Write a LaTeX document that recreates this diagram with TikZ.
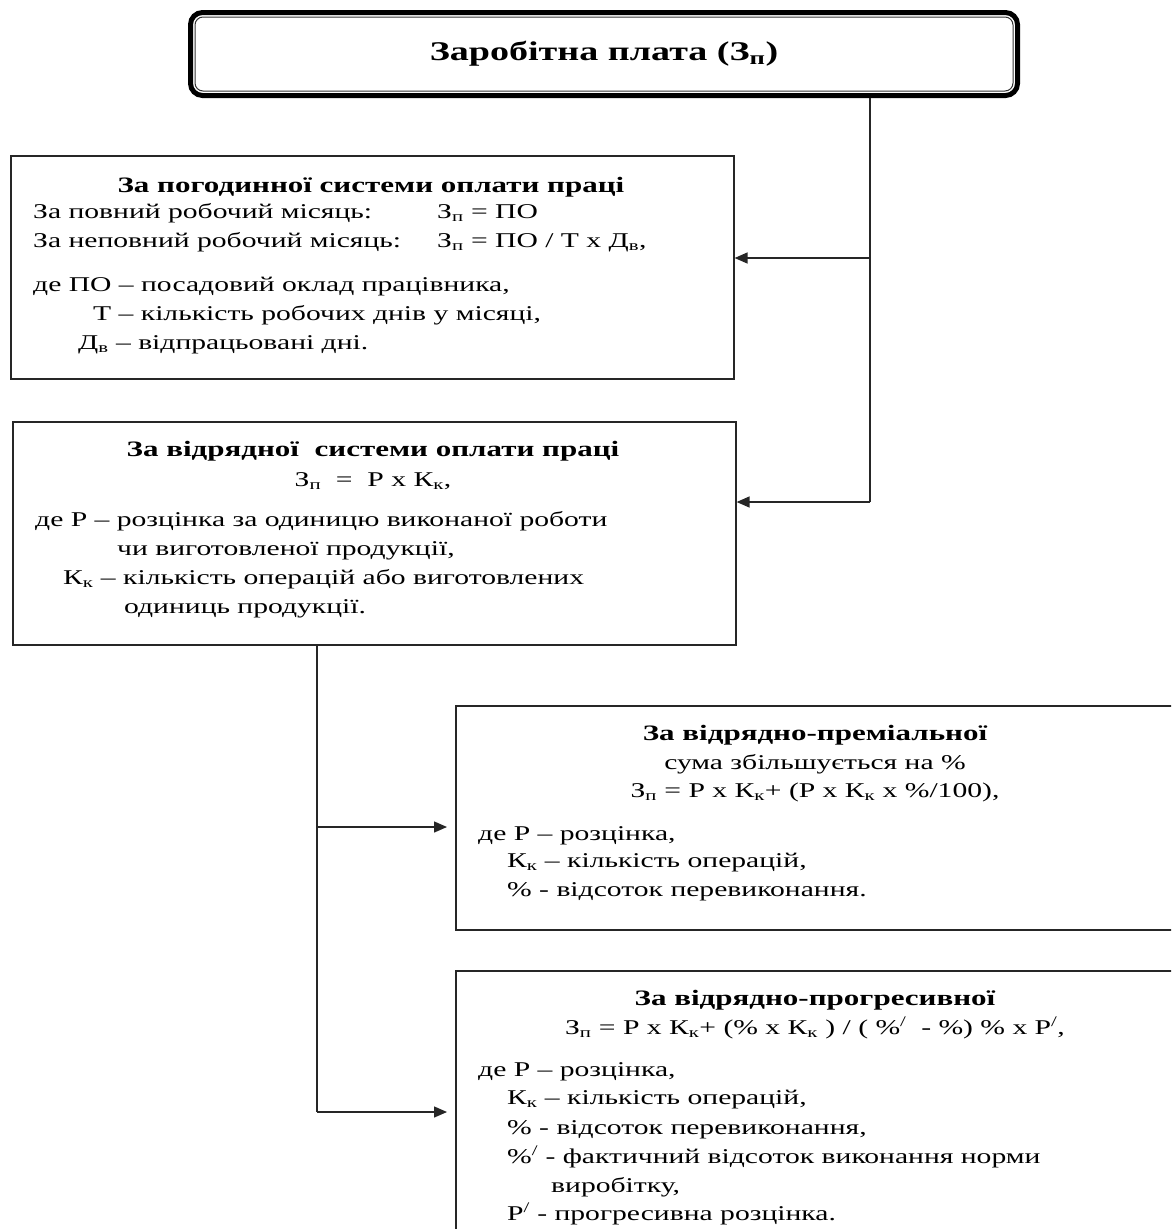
\documentclass[tikz,border=0pt]{standalone}
\usepackage{fontspec}
\setmainfont{Liberation Serif}[FakeStretch=1.41]
\usetikzlibrary{arrows.meta}
\tikzset{
  boxst/.style={draw=black!85, line width=1.6pt, inner sep=0pt, anchor=north west},
  txt/.style={inner sep=0pt, anchor=base west, font=\fontsize{21}{24}\selectfont},
  ctxt/.style={inner sep=0pt, anchor=base, font=\fontsize{21}{24}\selectfont},
  htxt/.style={inner sep=0pt, anchor=base, font=\fontsize{22}{26}\selectfont\bfseries},
  conn/.style={draw=black!85, line width=1.4pt},
  arr/.style={conn, -{Triangle[length=13pt,width=11pt]}}
}
\newcommand{\sbs}[1]{\textsubscript{#1}}
\newcommand{\sps}[1]{\textsuperscript{#1}}
\begin{document}
\begin{tikzpicture}[x=1pt,y=-1pt]
\useasboundingbox (0,0) rectangle (1171,1229);
\clip (0,0) rectangle (1171,1229);
\fill[white] (0,0) rectangle (1171,1229);

% title
\node[draw=black, line width=5pt, rounded corners=12pt, minimum width=827pt, minimum height=83pt, inner sep=0pt,
  font=\fontsize{27}{30}\selectfont\bfseries] (t) at (604,54) {Заробітна плата (З\sbs{п})};
\draw[black!80, line width=1pt, rounded corners=8pt] ([shift={(7,7)}]t.north west) rectangle ([shift={(-7,-7)}]t.south east);

% boxes
\node[boxst, minimum width=723pt, minimum height=223pt] (b1) at (10,155) {};
\node[boxst, minimum width=723pt, minimum height=223pt] (b2) at (12,421) {};
\node[boxst, minimum width=740pt, minimum height=224pt] (b3) at (455,705) {};
\node[boxst, minimum width=740pt, minimum height=290pt] (b4) at (455,970) {};

% box 1 text
\node[htxt] (h1) at (371,192) {За погодинної системи оплати праці};
\node[txt] (l11) at (33,218) {За повний робочий місяць:};
\node[txt] (f11) at (437,218) {З\sbs{п} = ПО};
\node[txt] (l12) at (33,247) {За неповний робочий місяць:};
\node[txt] (f12) at (437,247) {З\sbs{п} = ПО / Т х Д\sbs{в},};
\node[txt] (l13) at (33,291) {де ПО – посадовий оклад працівника,};
\node[txt] (l14) at (93,320) {Т – кількість робочих днів у місяці,};
\node[txt] (l15) at (78,349) {Д\sbs{в} – відпрацьовані дні.};

% box 2 text
\node[htxt] (h2) at (373,456) {За відрядної\ \ системи оплати праці};
\node[ctxt] (f21) at (373,486) {З\sbs{п}\ \ =\ \ Р х К\sbs{к},};
\node[txt] (l21) at (35,526) {де Р – розцінка за одиницю виконаної роботи};
\node[txt] (l22) at (117,555) {чи виготовленої продукції,};
\node[txt] (l23) at (63,584) {К\sbs{к} – кількість операцій або виготовлених};
\node[txt] (l24) at (124,613) {одиниць продукції.};

% box 3 text
\node[htxt] (h3) at (815,740) {За відрядно-преміальної};
\node[ctxt] (l30) at (815,769) {сума збільшується на \%};
\node[ctxt] (f31) at (815,797) {З\sbs{п} = Р х К\sbs{к}+ (Р х К\sbs{к} х \%/100),};
\node[txt] (l31) at (478,840) {де Р – розцінка,};
\node[txt] (l32) at (507,867) {К\sbs{к} – кількість операцій,};
\node[txt] (l33) at (507,896) {\% - відсоток перевиконання.};

% box 4 text
\node[htxt] (h4) at (815,1005) {За відрядно-прогресивної};
\node[ctxt] (f41) at (815,1034) {З\sbs{п} = Р х К\sbs{к}+ (\% х К\sbs{к} ) / ( \%\sps{/}\ \ - \%) \% х Р\sps{/},};
\node[txt] (l41) at (478,1076) {де Р – розцінка,};
\node[txt] (l42) at (507,1104) {К\sbs{к} – кількість операцій,};
\node[txt] (l43) at (507,1134) {\% - відсоток перевиконання,};
\node[txt] (l44) at (507,1163) {\%\sps{/} - фактичний відсоток виконання норми};
\node[txt] (l45) at (551,1192) {виробітку,};
\node[txt] (l46) at (507,1220) {Р\sps{/} - прогресивна розцінка.};

% connectors
\coordinate (c1) at (870,258);
\coordinate (c2) at (870,502);
\draw[conn] (t.south -| c1) -- (c2);
\draw[arr] (c1) -- (c1 -| b1.east);
\draw[arr] (c2) -- (c2 -| b2.east);

\coordinate (d1) at (317,827);
\coordinate (d2) at (317,1112);
\draw[conn] (b2.south -| d1) -- (d2);
\draw[arr, shorten >=8pt] (d1) -- (d1 -| b3.west);
\draw[arr, shorten >=8pt] (d2) -- (d2 -| b4.west);
\end{tikzpicture}
\end{document}
